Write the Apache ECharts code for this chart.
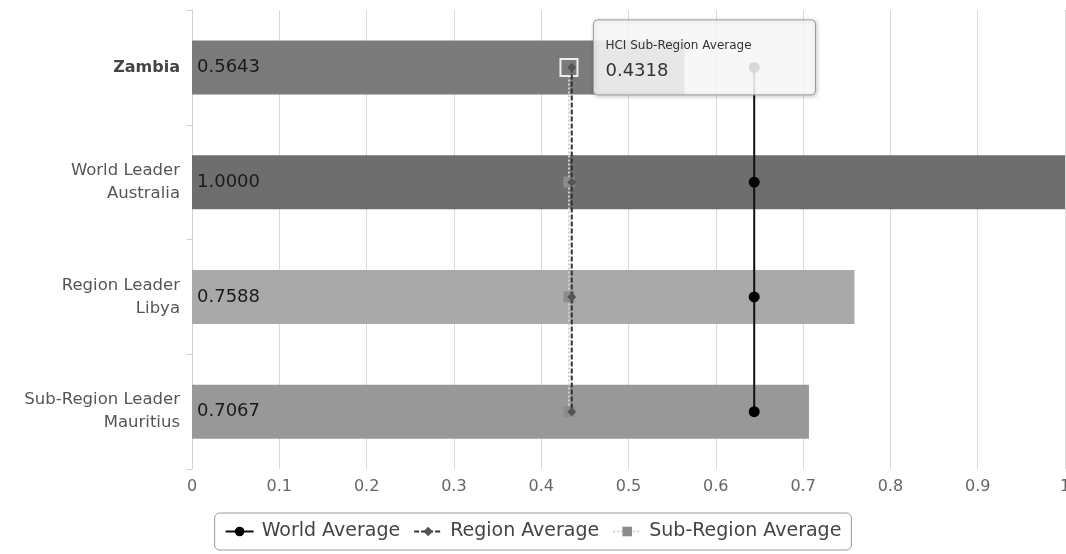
<!DOCTYPE html>
<html>
<head>
<meta charset="utf-8">
<script src="https://cdn.jsdelivr.net/npm/echarts@6/dist/echarts.min.js"></script>
<style>
html,body{margin:0;padding:0;background:#fff;}
#chart{width:1066px;height:554px;}
</style>
</head>
<body>
<div id="chart"></div>
<script>
const categories = ['Zambia', 'World Leader\nAustralia', 'Region Leader\nLibya', 'Sub-Region Leader\nMauritius'];
const hciValues = [0.5643, 1.0000, 0.7588, 0.7067];
const barColors = ['#7b7b7b', '#6e6e6e', '#a9a9a9', '#989898'];
const worldAverage = [0.644, 0.644, 0.644, 0.644];
const regionAverage = [0.435, 0.435, 0.435, 0.435];
const subRegionAverage = [0.4318, 0.4318, 0.4318, 0.4318];
const xTicks = ['0', '0.1', '0.2', '0.3', '0.4', '0.5', '0.6', '0.7', '0.8', '0.9', '1'];
const tooltipTitle = 'HCI Sub-Region Average';

const FONT = 'DejaVu Sans';
const chart = echarts.init(document.getElementById('chart'));

chart.setOption({
  animation: false,
  textStyle: { fontFamily: FONT },
  grid: { left: 192, right: 1, top: 10, bottom: 85, outerBoundsMode: 'none', containLabel: false },
  xAxis: {
    type: 'value', min: 0, max: 1, interval: 0.1,
    axisLine: { show: false },
    axisTick: { show: false },
    splitLine: { lineStyle: { color: '#d9d9d9', width: 1 } },
    axisLabel: {
      color: '#666', fontSize: 16, margin: 10, fontFamily: FONT,
      formatter: (v) => xTicks[Math.round(v * 10)]
    }
  },
  yAxis: {
    type: 'category', inverse: true, data: categories,
    axisLine: { show: true, lineStyle: { color: '#cfcfcf', type: 'dashed' } },
    axisTick: { show: true, length: 5, lineStyle: { color: '#cfcfcf' } },
    axisLabel: {
      margin: 12, fontSize: 16.5, color: '#555', lineHeight: 23, fontFamily: FONT,
      formatter: (v, i) => i === 0 ? '{b|' + v + '}' : v,
      rich: { b: { fontWeight: 'bold', color: '#444', fontSize: 16, fontFamily: FONT } }
    }
  },
  legend: {
    bottom: 4, left: 'center',
    data: ['World Average', 'Region Average', 'Sub-Region Average'],
    borderColor: '#9a9a9a', borderWidth: 1, borderRadius: 5,
    padding: [9, 10, 9, 10], itemGap: 13, itemWidth: 28, itemHeight: 12,
    textStyle: { fontSize: 19, color: '#444', fontFamily: FONT, padding: [0, 0, 0, 3] }
  },
  series: [
    {
      type: 'bar', name: 'HCI', barWidth: 54,
      data: hciValues.map((v, i) => ({ value: v, itemStyle: { color: barColors[i] } })),
      label: {
        show: true, position: 'insideLeft', distance: 5,
        color: '#1a1a1a', fontSize: 18, fontFamily: FONT,
        formatter: (p) => p.value.toFixed(4)
      },
      z: 2
    },
    {
      type: 'line', name: 'World Average',
      data: worldAverage.map((v, i) => [v, categories[i]]),
      symbol: 'circle', symbolSize: 11,
      itemStyle: { color: '#000' },
      lineStyle: { color: '#111', width: 2 },
      z: 5
    },
    {
      type: 'line', name: 'Region Average',
      data: regionAverage.map((v, i) => [v, categories[i]]),
      symbol: 'diamond', symbolSize: 9,
      itemStyle: { color: '#555' },
      lineStyle: { color: '#333', width: 2, type: [5, 2] },
      z: 4
    },
    {
      type: 'line', name: 'Sub-Region Average',
      data: subRegionAverage.map((v, i) => i === 0
        ? { value: [v, categories[i]], symbolSize: 17, itemStyle: { color: '#7a7a7a', borderColor: '#eeeeee', borderWidth: 2 } }
        : [v, categories[i]]),
      symbol: 'rect', symbolSize: 11,
      itemStyle: { color: '#8c8c8c' },
      lineStyle: { color: '#d0d0d0', width: 2, type: 'dotted' },
      z: 3
    }
  ]
});

// tooltip-like callout anchored to the highlighted sub-region point
const p = chart.convertToPixel({ seriesIndex: 3 }, [subRegionAverage[0], categories[0]]);
chart.setOption({
  graphic: [{
    type: 'group', left: p[0] + 24, top: p[1] - 48, z: 100,
    children: [
      { type: 'rect', z: 100, shape: { x: 0, y: 0, width: 222, height: 75, r: 4 },
        style: { fill: 'rgba(255,255,255,0.85)', stroke: '#9a9a9a', lineWidth: 1,
                 shadowBlur: 4, shadowColor: 'rgba(0,0,0,0.25)', shadowOffsetX: 1, shadowOffsetY: 1 } },
      { type: 'text', z: 101, x: 12, y: 26, style: { text: tooltipTitle, fill: '#333', font: '12px "DejaVu Sans"', verticalAlign: 'middle' } },
      { type: 'text', z: 101, x: 12, y: 51, style: { text: subRegionAverage[0].toFixed(4), fill: '#333', font: '18px "DejaVu Sans"', verticalAlign: 'middle' } }
    ]
  }]
});
</script>
</body>
</html>
